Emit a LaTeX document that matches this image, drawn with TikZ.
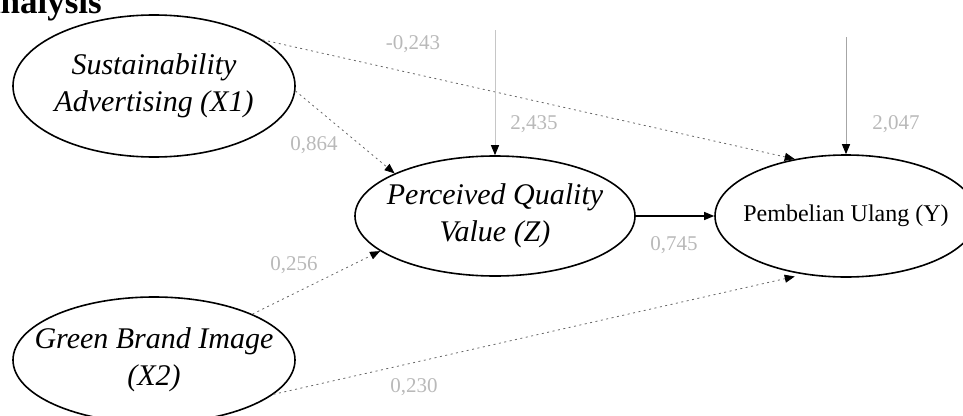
\documentclass[tikz,border=0pt]{standalone}
\usepackage{fontspec}
\setmainfont{Liberation Serif}
\usetikzlibrary{shapes.geometric,arrows.meta}

\begin{document}
\begin{tikzpicture}[x=1pt,y=-1pt,
  construct/.style={ellipse, draw=black, line width=1.6pt, fill=white,
    inner sep=0pt},
  cname/.style={align=center, inner sep=0pt,
    font=\fontsize{30}{37}\selectfont\itshape},
  tip/.style={-{Triangle[length=10pt,width=8pt,color=black]}},
  weakpath/.style={tip, draw=gray!80!black, line width=0.8pt,
    dash pattern=on 2pt off 3.5pt},
  strongpath/.style={tip, draw=black, line width=1.3pt},
  errpath/.style={tip, line width=1pt},
  coef/.style={font=\fontsize{21}{21}\selectfont, text=gray!55}]
\useasboundingbox (0,0) rectangle (963,415);

% section heading
\node[anchor=base east, inner sep=0pt, font=\fontsize{35}{35}\selectfont\bfseries]
  (heading) at (102,13) {Analysis};

% constructs
\node[construct, minimum width=282pt, minimum height=142pt] (x1) at (154,86) {};
\node[construct, minimum width=282pt, minimum height=126pt] (x2) at (154,360) {};
\node[construct, minimum width=280pt, minimum height=120pt] (z) at (495,216) {};
\node[construct, minimum width=262pt, minimum height=122pt] (y) at (846,216) {};

\node[cname] (x1name) at (x1) {Sustainability\\Advertising (X1)};
\node[cname] (x2name) at (x2) {Green Brand Image\\(X2)};
\node[cname] (zname) at (z) {Perceived Quality\\Value (Z)};
\node[cname, font=\fontsize{24}{28}\selectfont\upshape] (yname) at (y)
  {Pembelian Ulang (Y)};

% error terms
\coordinate (ez) at (495,30);
\coordinate (ey) at (846,37);

% paths
\draw[weakpath] (x1.23) -- (y.132);
\draw[weakpath] (x1.-2) -- (z.157);
\draw[weakpath] (x2.25) -- (z.197);
\draw[weakpath, shorten >=9pt] (x2.-16) -- (y.234);
\draw[strongpath] (z.east) -- (y.west);
\draw[errpath, draw=gray!45] (ez) -- (z.north);
\draw[errpath, draw=gray!70] (ey) -- (y.north);

% coefficients
\node[coef] (c1) at (413,44) {-0,243};
\node[coef] (c2) at (534,124) {2,435};
\node[coef] (c3) at (314,145) {0,864};
\node[coef] (c4) at (294,265) {0,256};
\node[coef] (c5) at (674,245) {0,745};
\node[coef] (c6) at (896,124) {2,047};
\node[coef] (c7) at (414,387) {0,230};
\end{tikzpicture}
\end{document}
